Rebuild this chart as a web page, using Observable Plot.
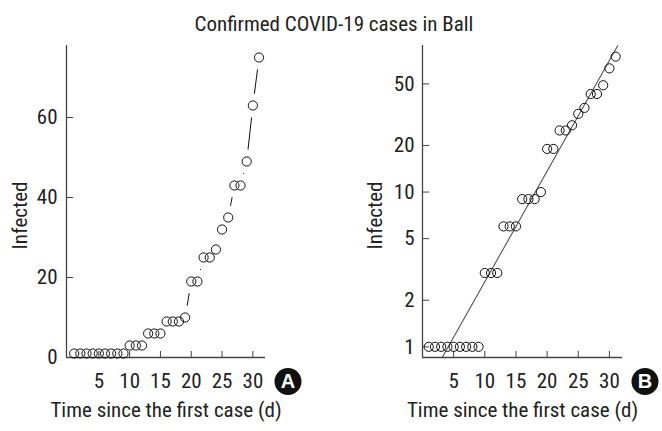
<!DOCTYPE html>
<html>
<head>
<meta charset="utf-8">
<script src="https://cdn.jsdelivr.net/npm/d3@7"></script>
<script src="https://cdn.jsdelivr.net/npm/@observablehq/plot@0.6"></script>
<style>
  html, body { margin: 0; padding: 0; background: #fff; }
  #wrap { position: relative; width: 662px; height: 431px; overflow: hidden;
          font-family: "Liberation Sans Narrow", "Roboto Condensed", "DejaVu Sans Condensed", "Arial Narrow", sans-serif; color: #222; }
  #title { position: absolute; left: 0; top: 12px; width: 668px; text-align: center; font-size: 21px; line-height: 24px; }
  #panelA { position: absolute; left: 0; top: 40px; }
  #panelB { position: absolute; left: 331px; top: 40px; }
</style>
</head>
<body>
<div id="wrap">
  <div id="title">Confirmed COVID-19 cases in Ball</div>
  <div id="panelA"></div>
  <div id="panelB"></div>
</div>
<script>
// ---- data ----
const days = [1,2,3,4,5,6,7,8,9,10,11,12,13,14,15,16,17,18,19,20,21,22,23,24,25,26,27,28,29,30,31];
const infected = [1,1,1,1,1,1,1,1,1,3,3,3,6,6,6,9,9,9,10,19,19,25,25,27,32,35,43,43,49,63,75];
const xTicks = [5,10,15,20,25,30];
const yTicksLinear = [0,20,40,60];
const yTicksLog = [1,2,5,10,20,50];
// exponential fit (panel B)
const fitDays = [3.16, 31.35];
const fitInfected = [0.853, 88.5];
const panelLabels = ["A", "B"];
const xLabel = "Time since the first case (d)";
const yLabel = "Infected";

const rows = days.map((d, i) => ({day: d, infected: infected[i]}));
const fitRows = fitDays.map((d, i) => ({day: d, infected: fitInfected[i]}));

const FONT = `"Liberation Sans Narrow", "Roboto Condensed", "DejaVu Sans Condensed", "Arial Narrow", sans-serif`;
const AX = "#444";
const H = 391, MT = 5, MB = 74;
const plotH = H - MT - MB;

function badge(letter) {
  return [
    Plot.dot([letter], {frameAnchor: "bottom-right", dx: 22.5, dy: 24, r: 13.5, fill: "#111", stroke: null}),
    Plot.text([letter], {text: d => d, frameAnchor: "bottom-right", dx: 22.5, dy: 24.5, textAnchor: "middle", lineAnchor: "middle", fill: "#fff", fontWeight: "bold", fontSize: 20, fontFamily: "Liberation Sans, Arial, sans-serif"})
  ];
}
function labels(dyY, dxY) {
  return [
    Plot.text([yLabel], {text: d => d, frameAnchor: "left", dx: dxY, dy: dyY, rotate: -90, textAnchor: "middle", lineAnchor: "middle", fill: "#222"}),
    Plot.text([xLabel], {text: d => d, frameAnchor: "bottom", dy: 53, textAnchor: "middle", lineAnchor: "middle", fill: "#222"})
  ];
}

// ---- Panel A (linear) ----
const wA = 331, mlA = 66, mrA = 66;
const plotA = Plot.plot({
  width: wA, height: H,
  marginTop: MT, marginBottom: MB, marginLeft: mlA, marginRight: mrA,
  style: {fontFamily: FONT, fontSize: "21px", color: "#222", background: "transparent", overflow: "visible"},
  x: {domain: [-0.25, 32.05], ticks: xTicks, tickSize: 0, tickPadding: 16, label: null},
  y: {domain: [0, 78], ticks: yTicksLinear, tickSize: 0, tickPadding: 9, label: null, tickFormat: d => String(d)},
  marks: [
    Plot.line(rows, {x: "day", y: "infected", stroke: "#111", strokeWidth: 1}),
    Plot.dot(rows, {x: "day", y: "infected", r: 12, fill: "#fff", stroke: null}),
    Plot.ruleX([-0.25], {stroke: AX, strokeWidth: 1.3}),
    Plot.ruleY([0], {stroke: AX, strokeWidth: 1.3}),
    Plot.tickX(xTicks, {x: d => d, stroke: AX, insetTop: plotH - 6}),
    Plot.tickY(yTicksLinear.filter(d => d > 0), {y: d => d, stroke: AX, insetRight: (wA - mlA - mrA) - 7}),
    Plot.dot(rows, {x: "day", y: "infected", r: 4.6, fill: "none", stroke: "#111", strokeWidth: 1}),
    ...badge(panelLabels[0]),
    ...labels(14, -46)
  ]
});
document.getElementById("panelA").appendChild(plotA);

// ---- Panel B (log) ----
const wB = 331, mlB = 91, mrB = 40;
const plotB = Plot.plot({
  width: wB, height: H,
  marginTop: MT, marginBottom: MB, marginLeft: mlB, marginRight: mrB,
  style: {fontFamily: FONT, fontSize: "21px", color: "#222", background: "transparent", overflow: "visible"},
  x: {domain: [0, 32.1], ticks: xTicks, tickSize: 0, tickPadding: 16, label: null},
  y: {type: "log", domain: [0.853, 88.5], ticks: yTicksLog, tickSize: 0, tickPadding: 8, label: null, tickFormat: d => String(d)},
  marks: [
    Plot.line(fitRows, {x: "day", y: "infected", stroke: "#555", strokeWidth: 1.1}),
    Plot.ruleX([0], {stroke: AX, strokeWidth: 1.3}),
    Plot.ruleY([0.853], {stroke: AX, strokeWidth: 1.3}),
    Plot.tickX(xTicks, {x: d => d, stroke: AX, insetTop: plotH - 6}),
    Plot.tickY(yTicksLog, {y: d => d, stroke: AX, insetRight: (wB - mlB - mrB) - 7}),
    Plot.dot(rows, {x: "day", y: "infected", r: 4.6, fill: "none", stroke: "#111", strokeWidth: 1}),
    ...badge(panelLabels[1]),
    ...labels(14, -47)
  ]
});
document.getElementById("panelB").appendChild(plotB);
</script>
</body>
</html>
